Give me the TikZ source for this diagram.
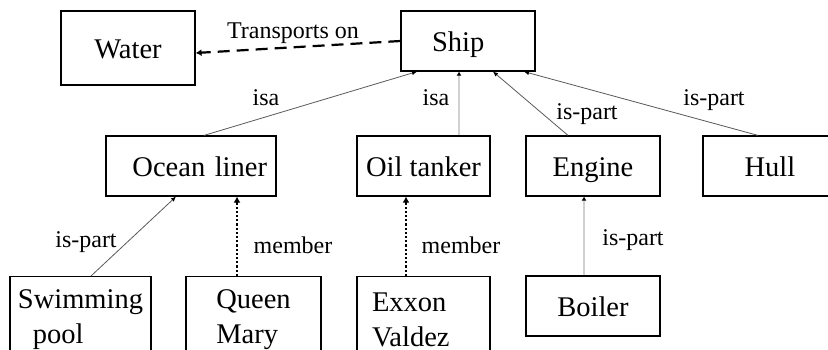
\documentclass[tikz,border=0pt]{standalone}
\usepackage{fontspec}
\setmainfont{Liberation Serif}
\usepackage{tikz}
\usetikzlibrary{arrows.meta}
\colorlet{partLine}{black!65}
\colorlet{isaLine}{black!18}

\begin{document}
\begin{tikzpicture}[
  x=1pt,
  y=-1pt,
  boxbase/.style={
    draw=black,
    line width=1.2pt,
    inner sep=0pt,
    font=\fontsize{28.5}{35}\selectfont,
  },
  box/.style={
    boxbase,
    minimum width=134pt,
    minimum height=60pt,
    text height=20pt,
    text depth=0pt,
  },
  tallbox/.style={
    boxbase,
    minimum height=86pt,
    anchor=north,
    align=left,
  },
  relation label/.style={
    font=\fontsize{24}{28}\selectfont,
    inner sep=0pt,
    anchor=base,
  },
  thin relation/.style={
    draw=partLine,
    line width=0.8pt,
    -{Latex[length=5pt,width=4.5pt,color=black]},
  },
  isa relation/.style={
    draw=isaLine,
    line width=2.6pt,
    -{Latex[length=4pt,width=5pt,color=black]},
  },
  member relation/.style={
    draw=black,
    line width=2.2pt,
    dotted,
    -{Latex[length=6pt,width=7pt]},
  },
  transport relation/.style={
    draw=black,
    line width=2.2pt,
    dash pattern=on 12pt off 7pt,
    -{Latex[length=6pt,width=7pt]},
  },
]
\useasboundingbox (0,0) rectangle (828,349);
\clip (0,0) rectangle (828,349);

% top row
\node[box, minimum height=74pt] (water) at (128,48) {Water};
\node[box, text width=72pt, inner xsep=31pt, align=left] (ship) at (468,41) {Ship};

% middle row
\node[box, text width=152pt, inner xsep=9pt, align=right] (ocean) at (191,166) {Ocean liner};
\node[box, minimum width=133pt] (oil) at (423.5,166) {Oil tanker};
\node[box] (engine) at (593,166) {Engine};
\node[box] (hull) at (770,166) {Hull};

% bottom row
\node[tallbox, minimum width=141pt] (swim) at (80.5,276) {Swimming\\\hspace*{15pt}pool};
\node[tallbox, minimum width=135pt] (queen) at (253.5,276) {Queen\\Mary};
\node[tallbox, text width=103pt, inner xsep=15pt] (exxon) at (423.5,276) {Exxon\\Valdez};
\node[box] (boiler) at (593,306) {Boiler};

% relations
\draw[transport relation] (ship.west) -- ([yshift=-5pt]water.east);
\draw[thin relation] ([xshift=13pt]ocean.north) -- ([xshift=-51pt]ship.south);
\draw[isa relation] ([xshift=35.5pt]oil.north) -- ([xshift=-9pt]ship.south);
\draw[thin relation] ([xshift=-25pt]engine.north) -- ([xshift=25pt]ship.south);
\draw[thin relation] ([xshift=-12pt]hull.north) -- ([xshift=56pt]ship.south);
\draw[thin relation] ([xshift=10.5pt]swim.north) -- ([xshift=-15pt]ocean.south);
\draw[member relation] ([xshift=-16.5pt]queen.north) -- ([xshift=46pt]ocean.south);
\draw[member relation] ([xshift=-17.5pt]exxon.north) -- ([xshift=-17.5pt]oil.south);
\draw[isa relation] ([xshift=-9pt]boiler.north) -- ([xshift=-9pt]engine.south);

% labels
\node[relation label] (transportsLabel) at (293,38) {Transports on};
\node[relation label] (oceanIsa) at (266,105) {isa};
\node[relation label] (oilIsa) at (436,105) {isa};
\node[relation label] (enginePart) at (587,119) {is-part};
\node[relation label] (hullPart) at (714,105) {is-part};
\node[relation label] (swimPart) at (86,247) {is-part};
\node[relation label] (queenMember) at (293,253) {member};
\node[relation label] (exxonMember) at (461,253) {member};
\node[relation label] (boilerPart) at (633,245) {is-part};
\end{tikzpicture}
\end{document}
